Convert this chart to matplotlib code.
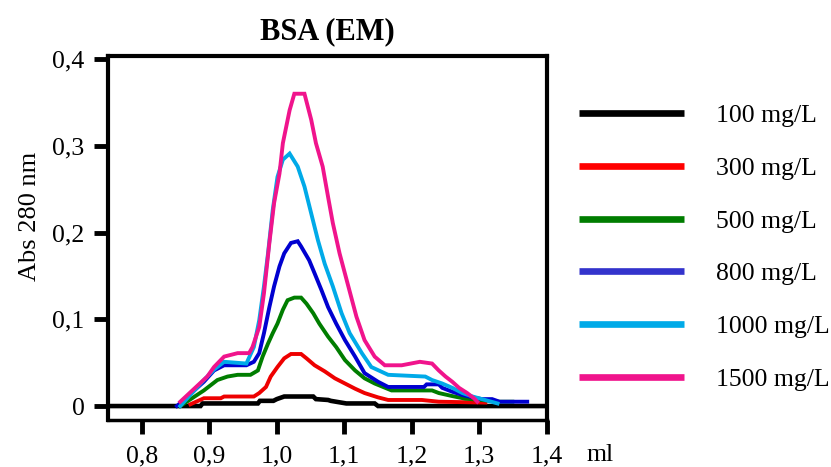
import matplotlib
matplotlib.use("Agg")
import matplotlib.pyplot as plt
from matplotlib.ticker import FuncFormatter
from matplotlib.lines import Line2D

plt.rcParams['font.family'] = ['Liberation Serif', 'DejaVu Serif']

labels = ["100 mg/L", "300 mg/L", "500 mg/L", "800 mg/L", "1000 mg/L", "1500 mg/L"]
colors = ["#000000", "#ee0000", "#007d00", "#0000d0", "#00aae8", "#f0148c"]
legend_colors = ["#000000", "#ff0000", "#007d00", "#3333cc", "#00aae8", "#f0148c"]

x_100 = [0.75, 0.887, 0.89, 0.972, 0.975, 0.995, 1.0, 1.011, 1.054, 1.058, 1.076, 1.08, 1.103, 1.145, 1.15, 1.40]
y_100 = [0.0, 0.0, 0.003, 0.003, 0.006, 0.006, 0.008, 0.011, 0.011, 0.008, 0.007, 0.006, 0.003, 0.003, 0.0, 0.0]

x_300 = [0.872, 0.892, 0.917, 0.922, 0.966, 0.974, 0.984, 0.991, 1.001, 1.011, 1.021, 1.036, 1.044, 1.056, 1.071, 1.086, 1.101, 1.116, 1.130, 1.150, 1.165, 1.215, 1.24, 1.309]
y_300 = [0.002, 0.009, 0.009, 0.011, 0.011, 0.015, 0.022, 0.034, 0.045, 0.055, 0.060, 0.060, 0.055, 0.047, 0.040, 0.032, 0.026, 0.020, 0.015, 0.010, 0.007, 0.007, 0.005, 0.004]

x_500 = [0.857, 0.892, 0.912, 0.927, 0.942, 0.961, 0.972, 0.979, 0.987, 0.994, 1.001, 1.009, 1.016, 1.026, 1.036, 1.044, 1.054, 1.063, 1.076, 1.088, 1.101, 1.116, 1.130, 1.145, 1.170, 1.23, 1.24, 1.26, 1.279, 1.304, 1.329, 1.349]
y_500 = [0.0, 0.018, 0.030, 0.034, 0.036, 0.036, 0.041, 0.057, 0.072, 0.084, 0.095, 0.111, 0.122, 0.125, 0.125, 0.118, 0.107, 0.095, 0.080, 0.068, 0.053, 0.041, 0.032, 0.026, 0.018, 0.018, 0.015, 0.0115, 0.0085, 0.007, 0.005, 0.005]

x_800 = [0.852, 0.892, 0.907, 0.922, 0.955, 0.966, 0.974, 0.981, 0.989, 0.996, 1.004, 1.011, 1.021, 1.031, 1.036, 1.048, 1.056, 1.066, 1.076, 1.088, 1.101, 1.116, 1.130, 1.150, 1.165, 1.218, 1.222, 1.24, 1.245, 1.26, 1.275, 1.29, 1.304, 1.319, 1.33, 1.371]
y_800 = [0.0, 0.028, 0.041, 0.047, 0.047, 0.051, 0.061, 0.084, 0.114, 0.138, 0.161, 0.176, 0.188, 0.190, 0.184, 0.168, 0.153, 0.134, 0.114, 0.095, 0.076, 0.057, 0.038, 0.028, 0.022, 0.022, 0.025, 0.025, 0.021, 0.0165, 0.0127, 0.010, 0.008, 0.008, 0.005, 0.005]

x_1000 = [0.857, 0.892, 0.907, 0.922, 0.955, 0.966, 0.974, 0.981, 0.987, 0.994, 1.001, 1.009, 1.019, 1.031, 1.041, 1.051, 1.061, 1.071, 1.083, 1.096, 1.108, 1.126, 1.140, 1.165, 1.22, 1.23, 1.245, 1.26, 1.275, 1.29, 1.304, 1.327]
y_1000 = [0.0, 0.030, 0.042, 0.051, 0.049, 0.068, 0.099, 0.138, 0.176, 0.226, 0.264, 0.284, 0.291, 0.276, 0.253, 0.222, 0.191, 0.164, 0.138, 0.107, 0.084, 0.061, 0.045, 0.036, 0.034, 0.030, 0.026, 0.021, 0.015, 0.011, 0.008, 0.003]

x_1500 = [0.857, 0.897, 0.907, 0.922, 0.942, 0.959, 0.964, 0.974, 0.981, 0.989, 0.996, 1.004, 1.009, 1.014, 1.019, 1.026, 1.041, 1.051, 1.058, 1.068, 1.076, 1.083, 1.093, 1.106, 1.118, 1.130, 1.145, 1.160, 1.185, 1.212, 1.23, 1.24, 1.25, 1.26, 1.27, 1.282, 1.292, 1.297]
y_1500 = [0.005, 0.034, 0.045, 0.057, 0.061, 0.061, 0.068, 0.091, 0.130, 0.188, 0.234, 0.268, 0.303, 0.322, 0.341, 0.360, 0.360, 0.330, 0.303, 0.276, 0.241, 0.211, 0.176, 0.138, 0.103, 0.076, 0.057, 0.047, 0.047, 0.051, 0.049, 0.041, 0.034, 0.028, 0.021, 0.015, 0.009, 0.005]

series_x = [x_100, x_300, x_500, x_800, x_1000, x_1500]
series_y = [y_100, y_300, y_500, y_800, y_1000, y_1500]

x_ticks = [0.8, 0.9, 1.0, 1.1, 1.2, 1.3, 1.4]
y_ticks = [0.0, 0.1, 0.2, 0.3, 0.4]

fig = plt.figure(figsize=(8.31, 4.67), dpi=100)
ax = fig.add_axes([0.13, 0.1006, 0.528, 0.7795])

for i, (xs, ys, c) in enumerate(zip(series_x, series_y, colors)):
    ax.plot(xs, ys, color=c, lw=3.3 if i == 0 else 2.8, solid_joinstyle='miter')

ax.set_xlim(0.75, 1.4)
ax.set_ylim(-0.0161, 0.4035)
ax.set_xticks(x_ticks)
ax.set_yticks(y_ticks)

def fmt(v, pos):
    if abs(v) < 1e-9:
        return "0"
    return ("%.1f" % v).replace(".", ",")

ax.xaxis.set_major_formatter(FuncFormatter(fmt))
ax.yaxis.set_major_formatter(FuncFormatter(fmt))
ax.tick_params(axis='x', direction='out', length=10, width=3.5, labelsize=18.5, pad=8)
ax.tick_params(axis='y', direction='out', length=10, width=3.5, labelsize=18.5, pad=7)
for s in ['top', 'left', 'right']:
    ax.spines[s].set_linewidth(3)
ax.spines['bottom'].set_linewidth(2.5)

ax.set_title("BSA (EM)", fontsize=22, fontweight='bold', pad=12)
fig.text(30 / 831, 1 - 216 / 467, "Abs 280 nm", fontsize=19, rotation=90,
         ha='center', va='center')
fig.text(600 / 831, 1 - 455 / 467, "ml", fontsize=18.5, ha='center', va='center')

handles = [Line2D([0], [0], color=c, lw=4.8, solid_capstyle='butt') for c in legend_colors]
leg = fig.legend(handles, labels, loc='upper left', bbox_to_anchor=(579 / 831, 1 - 104 / 467),
                 frameon=False, fontsize=18.5, handlelength=4.1, handletextpad=1.25,
                 labelspacing=1.16, borderaxespad=0, borderpad=0)

fig.savefig("out.png", dpi=100)
